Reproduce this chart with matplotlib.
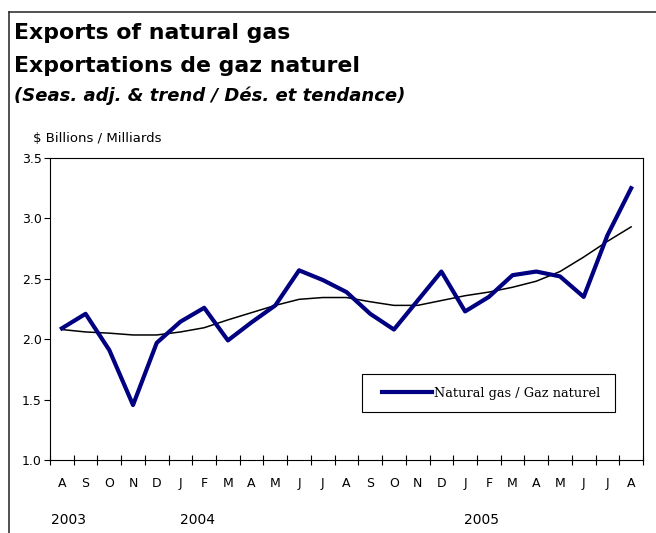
import numpy as np
import matplotlib.pyplot as plt
from matplotlib.lines import Line2D
from matplotlib.legend_handler import HandlerLine2D

months = ['A', 'S', 'O', 'N', 'D', 'J', 'F', 'M', 'A', 'M', 'J', 'J',
          'A', 'S', 'O', 'N', 'D', 'J', 'F', 'M', 'A', 'M', 'J', 'J', 'A']
years = ['2003', '2004', '2005']
year_pos = [0.3, 5.7, 17.7]

gas = [2.09, 2.21, 1.91, 1.455, 1.97, 2.145, 2.26, 1.99, 2.14, 2.28, 2.57, 2.49,
       2.39, 2.21, 2.08, 2.32, 2.56, 2.23, 2.35, 2.53, 2.56, 2.52, 2.35, 2.86, 3.25]
trend = [2.08, 2.06, 2.05, 2.035, 2.035, 2.06, 2.095, 2.16, 2.22, 2.28, 2.33, 2.345,
         2.345, 2.31, 2.28, 2.28, 2.32, 2.36, 2.39, 2.43, 2.48, 2.56, 2.68, 2.81, 2.93]

plt.rcParams['font.family'] = ['DejaVu Sans']

fig = plt.figure(figsize=(6.56, 5.33), dpi=100)
ax = fig.add_axes([50/656, 73/533, 593/656, 302/533])

x = np.arange(len(months))
gas_line, = ax.plot(x, gas, color='#000080', lw=3.0, label='Natural gas / Gaz naturel', zorder=3)
ax.plot(x, trend, color='black', lw=1.1, zorder=2)

ax.set_xlim(-0.5, len(months) - 0.5)
ax.set_ylim(1.0, 3.5)
ax.set_yticks(np.arange(1.0, 3.51, 0.5))
ax.set_yticklabels(['%.1f' % v for v in np.arange(1.0, 3.51, 0.5)], fontsize=9)
ax.tick_params(axis='y', direction='out', length=4, width=0.8, pad=2)

ax.set_xticks(np.arange(-0.5, len(months), 1.0))
ax.set_xticklabels([])
ax.set_xticks(x, minor=True)
ax.set_xticklabels(months, minor=True, fontsize=9)
ax.tick_params(axis='x', which='major', direction='inout', length=7, width=0.8)
ax.tick_params(axis='x', which='minor', length=0, pad=12)

for s in ax.spines.values():
    s.set_linewidth(0.8)

for yr, p in zip(years, year_pos):
    ax.text(p, -0.2, yr, transform=ax.get_xaxis_transform(), ha='center',
            va='center', fontsize=10, clip_on=False)

leg = ax.legend(loc='lower left', bbox_to_anchor=(0.526, 0.159, 0.427, 0.129),
                mode='expand', fancybox=False, framealpha=1, edgecolor='black',
                handlelength=4.5, handletextpad=0.15, borderpad=0.95, borderaxespad=0,
                handler_map={gas_line: HandlerLine2D(xpad=0.6)},
                prop={'family': 'DejaVu Serif', 'size': 9.3})
leg.get_frame().set_linewidth(0.8)

fig.text(14/656, 1 - 39/533, 'Exports of natural gas', fontsize=15.8,
         fontweight='bold', va='baseline')
fig.text(14/656, 1 - 72/533, 'Exportations de gaz naturel', fontsize=15.8,
         fontweight='bold', va='baseline')
fig.text(14/656, 1 - 101/533, '(Seas. adj. & trend / Dés. et tendance)', fontsize=13,
         fontweight='bold', style='italic', va='baseline')
fig.text(33/656, 1 - 142/533, '$ Billions / Milliards', fontsize=9.5, va='baseline')

fig.add_artist(Line2D([9/656, 9/656], [0, 1 - 12/533], color='#333333', lw=1.2))
fig.add_artist(Line2D([9/656, 1], [1 - 12/533, 1 - 12/533], color='#333333', lw=1.2))

fig.savefig('out.png', dpi=100)
